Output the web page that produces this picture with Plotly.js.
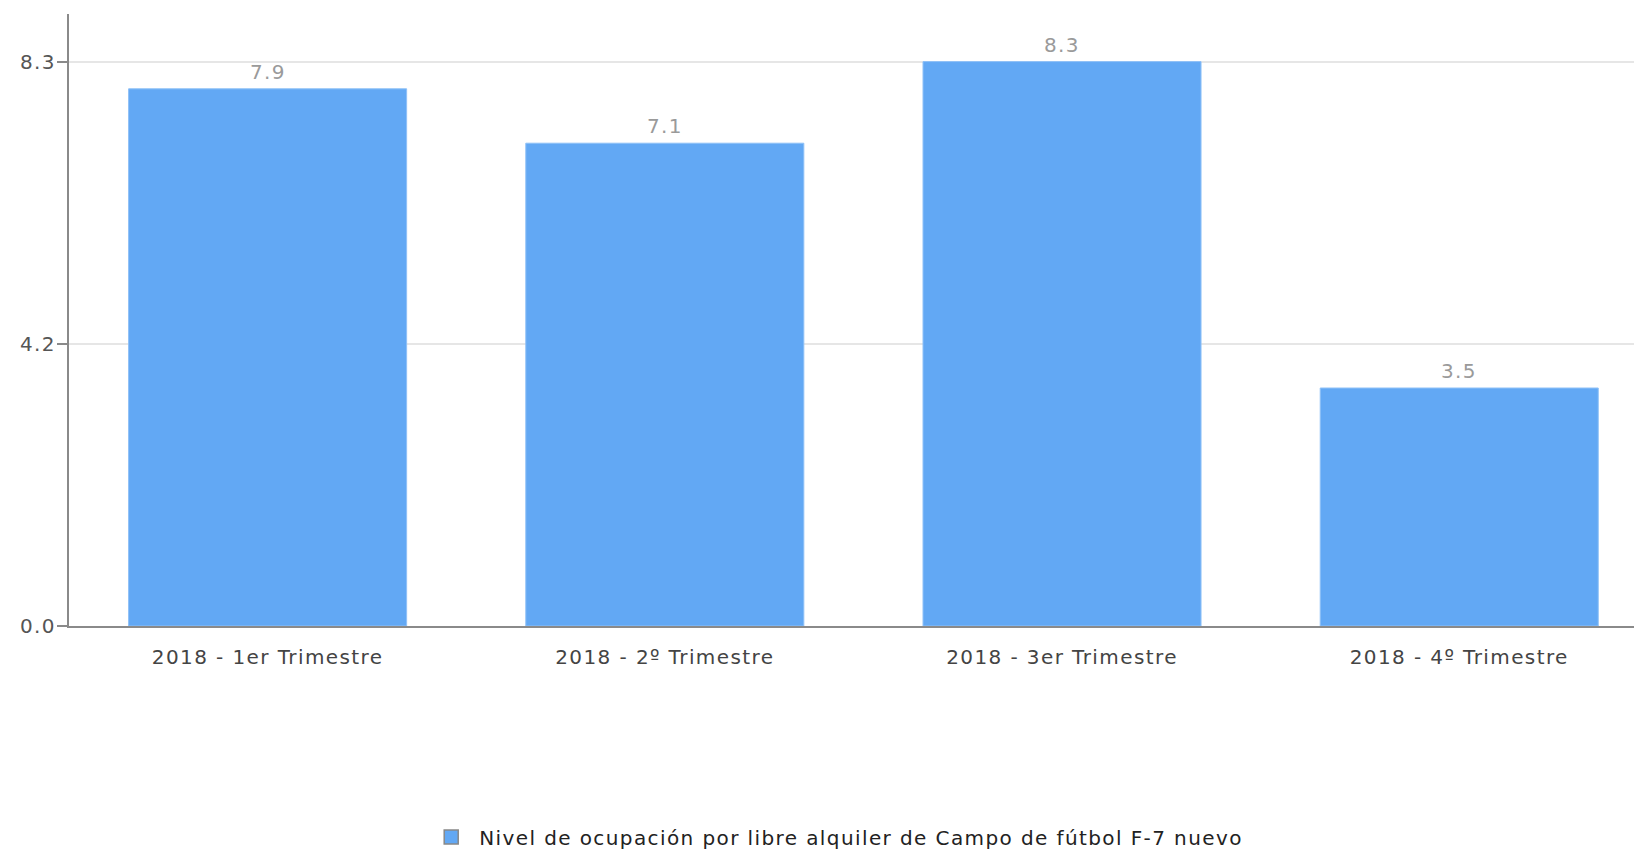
<!DOCTYPE html>
<html>
<head>
<meta charset="utf-8">
<script src="https://cdn.plot.ly/plotly-3.0.1.min.js"></script>
<style>
html,body{margin:0;padding:0;background:#fff;}
#chart{width:1634px;height:849px;}
#chart svg text{letter-spacing:1.4px;}
</style>
</head>
<body>
<div id="chart"></div>
<script>
const categories = ["2018 - 1er Trimestre", "2018 - 2º Trimestre", "2018 - 3er Trimestre", "2018 - 4º Trimestre"];
const values = [7.9, 7.1, 8.3, 3.5];
const valueLabels = ["7.9", "7.1", "8.3", "3.5"];
const seriesName = "Nivel de ocupación por libre alquiler de Campo de fútbol F-7 nuevo";
const yTickValues = [0, 4.15, 8.3];
const yTickLabels = ["0.0", "4.2", "8.3"];

const FONT = "DejaVu Sans, Verdana, sans-serif";
const BAR_COLOR = "#62a8f4";

const barTrace = {
  type: "bar",
  x: categories,
  y: values,
  name: seriesName,
  showlegend: false,
  marker: {color: BAR_COLOR, line: {color: "#8fc1f7", width: 1}},
  hoverinfo: "x+y"
};

// legend entry (square swatch with grey border)
const legendTrace = {
  type: "scatter",
  mode: "markers",
  x: [categories[0]],
  y: [null],
  name: seriesName,
  showlegend: true,
  marker: {symbol: "square", size: 14, color: BAR_COLOR, line: {color: "#888", width: 1.5}},
  hoverinfo: "skip"
};

const annotations = categories.map((c, i) => ({
  x: c,
  y: values[i],
  xref: "x",
  yref: "y",
  text: valueLabels[i],
  showarrow: false,
  yanchor: "bottom",
  yshift: 3,
  font: {family: FONT, size: 20, color: "#9a9a9a"}
}));

const layout = {
  width: 1634,
  height: 849,
  margin: {l: 69, r: 0, t: 14, b: 223, pad: 0},
  paper_bgcolor: "#ffffff",
  plot_bgcolor: "#ffffff",
  font: {family: FONT, size: 20, color: "#444"},
  bargap: 0.3,
  showlegend: true,
  annotations: annotations,
  xaxis: {
    type: "category",
    range: [-0.5, 3.44],
    autorange: false,
    showline: true,
    linecolor: "#8a8a8a",
    linewidth: 2,
    ticks: "",
    showgrid: false,
    zeroline: false,
    tickfont: {family: FONT, size: 20, color: "#444"},
    ticklabelstandoff: 12
  },
  yaxis: {
    range: [0, 9],
    autorange: false,
    tickmode: "array",
    tickvals: yTickValues,
    ticktext: yTickLabels,
    showline: true,
    linecolor: "#8a8a8a",
    linewidth: 2,
    ticks: "outside",
    ticklen: 10,
    tickwidth: 2,
    tickcolor: "#8a8a8a",
    showgrid: true,
    gridcolor: "#e6e6e6",
    gridwidth: 2,
    zeroline: false,
    ticklabelstandoff: -3,
    tickfont: {family: FONT, size: 20, color: "#555"}
  },
  legend: {
    orientation: "h",
    xref: "container",
    yref: "container",
    x: 0.259,
    xanchor: "left",
    y: 0.014,
    yanchor: "middle",
    itemwidth: 46,
    entrywidth: 800,
    entrywidthmode: "pixels",
    font: {family: FONT, size: 20, color: "#222"},
    bgcolor: "rgba(0,0,0,0)"
  }
};

Plotly.newPlot("chart", [barTrace, legendTrace], layout, {displayModeBar: false, responsive: false});
</script>
</body>
</html>
